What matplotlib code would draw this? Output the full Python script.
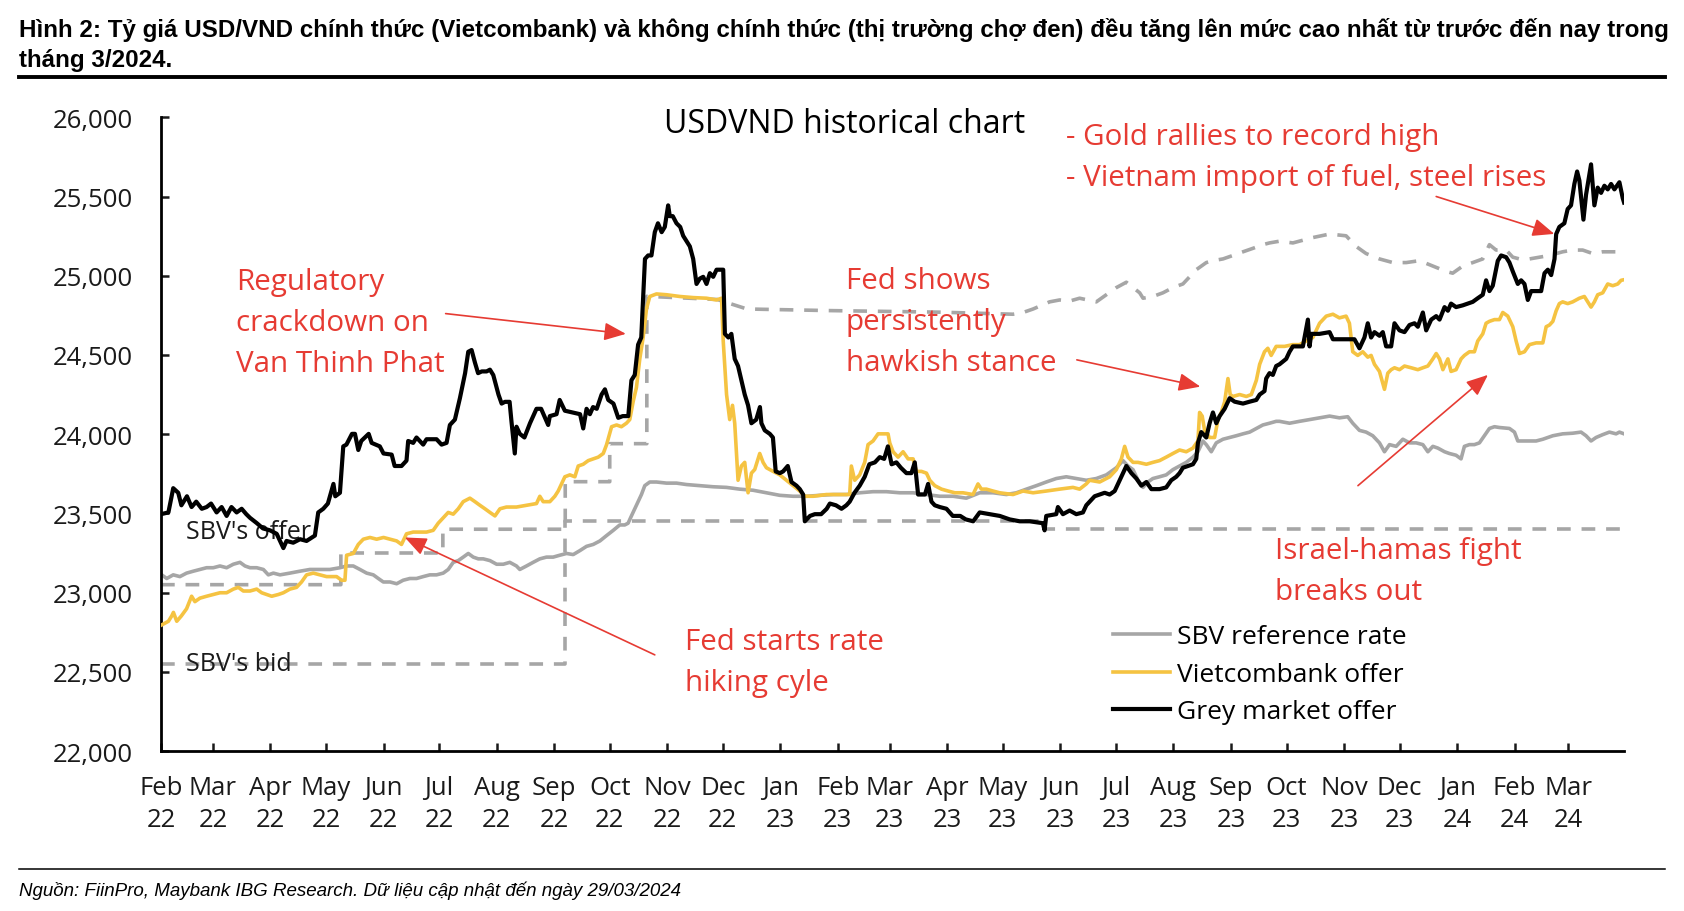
import numpy as np
import pandas as pd
import matplotlib
matplotlib.use("Agg")
import matplotlib.pyplot as plt
from matplotlib.lines import Line2D
from matplotlib.ticker import FuncFormatter

plt.rcParams['font.family'] = ['Open Sans', 'DejaVu Sans']

start = pd.Timestamp("2022-02-01")

# x = days after 01/02/2022, y = VND per USD
grey_days = [0.4, 3.1, 6.6, 10.2, 13.8, 17.4, 21, 24.6, 28.2, 31.8, 35.4, 39, 42.6, 45.3, 48, 51.6,
             55.2, 57.9, 60.6, 64.2, 69.5, 74.9, 80.3, 85.7, 91.1, 96.5, 100.1, 103.7, 107.3, 110.9,
             114.5, 117.2, 119.9, 123.5, 127.1, 130.6, 134.2, 137.8, 141.4, 145, 148.6, 152.2, 154.9,
             157.6, 160.3, 163, 165.7, 168.4, 171.1, 173.8, 177.4, 181, 184.6, 188.1, 191.7, 193.5,
             197.1, 200.7, 204.3, 207.9, 211.5, 215.1, 218.7, 222.3, 225.9, 229.5, 233.1, 236.7,
             240.3, 243.9, 247.4, 250.1, 251.9, 253.7, 256.4, 259.1, 260.9, 263.6, 267.2, 272.6,
             278, 283.4, 290.6, 297.8, 305, 312.1, 319.3, 326.5, 333.7, 340.9, 348.1, 355.3, 362.5,
             369.6, 376.8, 384, 391.2, 398.4, 405.6, 412.8, 420, 427.2, 434.3, 441.5, 448.7, 455.9,
             461.3, 466.7, 472.1, 477.4, 482.8, 488.2, 493.6, 499, 504.4, 509.8, 515.2, 518.8, 521.5,
             524.2, 526.9, 529.6, 532.2, 534.9, 538.5, 542.1, 545.7, 549.3, 552.9, 556.5, 559.2,
             561.9, 563.7, 566.4, 569.1, 572.7, 576.3, 579.9, 583.5, 587.1, 590.7, 594.2, 597.8,
             601.4, 603.2, 608.6, 614, 619.4, 624.8, 630.2, 635.5, 640, 642.7, 646.3, 649.9, 653.5,
             657.1, 659.8, 662.5, 666.1, 669.7, 673.3, 676.9, 680.5, 683.2, 685.9, 688.6, 692.2,
             694.8, 698.4, 701.1, 702.9, 705.6, 708.3, 711, 713.7, 716.4, 719.1, 721.8, 727.2, 729.9,
             731.7, 736.2, 741.6, 745.2, 750.6, 755.9, 761.3, 765.8, 768.5, 771.2, 773.9, 777.5,
             781.1, 784.7, 786.5, 789]
grey_vals = [23112, 23089, 23112, 23101, 23123, 23135, 23146, 23157, 23157, 23168, 23157, 23179, 23191,
             23168, 23157, 23157, 23146, 23112, 23123, 23112, 23123, 23135, 23146, 23146, 23146, 23157,
             23168, 23168, 23146, 23123, 23112, 23089, 23067, 23067, 23056, 23078, 23089, 23089, 23101,
             23112, 23112, 23123, 23146, 23191, 23202, 23224, 23247, 23224, 23213, 23213, 23202, 23179,
             23179, 23191, 23168, 23146, 23168, 23191, 23213, 23224, 23224, 23236, 23247, 23240, 23265,
             23292, 23304, 23326, 23360, 23393, 23427, 23427, 23438, 23484, 23551, 23619, 23675, 23698,
             23698, 23691, 23691, 23682, 23675, 23668, 23664, 23653, 23646, 23630, 23614, 23608, 23608,
             23614, 23619, 23619, 23630, 23637, 23637, 23630, 23630, 23619, 23608, 23608, 23596, 23630,
             23630, 23619, 23630, 23653, 23675, 23698, 23720, 23731, 23720, 23709, 23720, 23743, 23788,
             23833, 23799, 23776, 23709, 23664, 23698, 23720, 23731, 23743, 23776, 23799, 23822, 23855,
             23889, 23957, 23934, 23889, 23945, 23968, 23979, 23990, 24002, 24013, 24036, 24058, 24069,
             24081, 24081, 24069, 24081, 24092, 24103, 24114, 24103, 24110, 24069, 24024, 24013, 23990,
             23945, 23889, 23934, 23923, 23968, 23945, 23945, 23934, 23889, 23923, 23912, 23889, 23878,
             23867, 23844, 23923, 23934, 23934, 23945, 23990, 24036, 24047, 24042, 24036, 24013, 23957,
             23957, 23957, 23968, 23990, 24002, 24006, 24013, 23990, 23957, 23979, 23997, 24013, 24002,
             24013, 24002]

vcb_days = [0.4, 4, 5.8, 6.7, 8.5, 11, 13.8, 16.5, 18.3, 21, 24.6, 28.2, 31.8, 35.4, 39, 41.7, 44.4, 48,
            51.6, 54.3, 57, 59.7, 63.3, 66, 69.5, 73.1, 75.8, 78.5, 82.1, 85.7, 89.3, 94.7, 97.4, 99.2,
            100.1, 103.7, 106.4, 109.1, 112.7, 116.3, 120, 123.5, 127.1, 129.7, 132.4, 136, 139.6,
            143.2, 146.8, 149.5, 152.2, 154.9, 157.6, 160.3, 163, 164.8, 166.6, 169.3, 172, 174.7,
            177.4, 180.1, 182.8, 186.3, 191.7, 197.1, 202.5, 204.3, 206.1, 209.7, 212.4, 214.2, 217.8,
            220.5, 223.2, 225, 227.7, 230.4, 233.1, 235.8, 238.5, 240.3, 243, 245.7, 248.3, 251, 252.8,
            254.6, 256.4, 258.2, 260, 261.8, 263.6, 267.2, 272.6, 279.8, 287, 294.2, 299.6, 302.3,
            303.2, 305, 306.7, 308.2, 309.4, 311.2, 313, 314.8, 316.6, 318.4, 320.2, 322.9, 324.7,
            326.5, 330.1, 333.7, 337.3, 340.9, 344.5, 347.2, 351.7, 358.9, 366, 371.4, 372.3, 374.1,
            376.8, 379.5, 381.3, 384, 386.7, 389.4, 392.1, 393, 394.8, 397.5, 400.2, 402.9, 405.6,
            407.4, 410.1, 412.8, 414.6, 417.3, 420.9, 424.5, 428.1, 432.5, 437.9, 440.6, 442.4, 445.1,
            448.7, 452.3, 459.5, 464.9, 470.3, 477.4, 484.6, 491.8, 495.4, 499, 500.8, 506.2, 511.6,
            515.2, 517.9, 519.7, 521.5, 524.2, 526.9, 531.4, 534.9, 538.5, 542.1, 545.7, 549.3, 552.9,
            556.5, 559.2, 560.1, 561.5, 562.8, 565.5, 568.2, 570, 571.8, 573.6, 575.4, 576.6, 578.1,
            581.7, 585.3, 588, 590.7, 592.5, 595.1, 596.9, 598.7, 601.4, 605.9, 610.4, 614, 617.6,
            621.2, 624.8, 628.4, 632, 635.5, 639.1, 640.9, 642.7, 645.4, 648.1, 650.8, 652.6, 654.4,
            657.1, 659.8, 661.6, 663.4, 665.2, 667.9, 670.6, 674.2, 677.8, 680.5, 683.2, 685.9, 687.7,
            689.5, 691.3, 694, 695.7, 698.4, 701.1, 702.9, 705.6, 708.3, 710.1, 712.8, 714.6, 716.4,
            719.1, 721.8, 723.6, 726.3, 729, 730.8, 732.6, 735.3, 738, 741.6, 745.2, 747, 748.8,
            750.6, 752.4, 754.1, 755.9, 758.6, 761.3, 764.9, 767.6, 771.2, 773, 774.8, 777.5, 780.2,
            782.9, 785.6, 787.4, 789]
vcb_vals = [22796, 22819, 22853, 22875, 22819, 22853, 22898, 22977, 22943, 22965, 22977, 22988, 22999,
            22999, 23022, 23033, 23010, 23010, 23022, 22999, 22988, 22977, 22988, 22999, 23022, 23033,
            23067, 23112, 23123, 23112, 23101, 23101, 23078, 23078, 23236, 23247, 23304, 23337, 23348,
            23337, 23348, 23337, 23326, 23304, 23371, 23382, 23382, 23382, 23393, 23438, 23472, 23506,
            23495, 23529, 23574, 23585, 23596, 23574, 23551, 23529, 23506, 23484, 23529, 23540, 23540,
            23551, 23562, 23608, 23574, 23574, 23608, 23641, 23731, 23743, 23731, 23799, 23810, 23833,
            23844, 23855, 23878, 23934, 24047, 24058, 24047, 24069, 24092, 24204, 24295, 24475, 24610,
            24790, 24869, 24885, 24880, 24869, 24862, 24858, 24847, 24858, 24588, 24250, 24092, 24182,
            24069, 23709, 23799, 23822, 23630, 23754, 23777, 23878, 23822, 23788, 23765, 23743, 23709,
            23675, 23641, 23608, 23608, 23619, 23619, 23619, 23799, 23709, 23743, 23822, 23934, 23957,
            24002, 24002, 24002, 23945, 23889, 23855, 23889, 23844, 23844, 23765, 23765, 23754, 23709,
            23675, 23653, 23641, 23630, 23630, 23619, 23686, 23653, 23653, 23641, 23630, 23619, 23641,
            23630, 23641, 23653, 23664, 23653, 23686, 23709, 23698, 23731, 23776, 23844, 23923, 23855,
            23822, 23822, 23810, 23822, 23833, 23855, 23878, 23900, 23889, 23912, 23957, 24137, 24114,
            24024, 23979, 23979, 24092, 24137, 24204, 24351, 24250, 24238, 24250, 24238, 24250, 24340,
            24441, 24520, 24542, 24497, 24554, 24554, 24565, 24565, 24588, 24610, 24700, 24745, 24757,
            24734, 24745, 24700, 24520, 24497, 24520, 24486, 24497, 24441, 24396, 24283, 24385, 24407,
            24419, 24407, 24430, 24419, 24407, 24419, 24430, 24475, 24509, 24475, 24407, 24475, 24396,
            24407, 24475, 24497, 24520, 24520, 24588, 24633, 24700, 24712, 24723, 24723, 24768, 24745,
            24678, 24588, 24509, 24520, 24565, 24576, 24576, 24678, 24689, 24712, 24779, 24824, 24835,
            24824, 24835, 24858, 24869, 24802, 24835, 24880, 24892, 24948, 24937, 24948, 24971, 24975]

black_days = [0, 4, 6.6, 9.3, 11, 14, 16.5, 19, 22, 24.6, 27, 30, 32.7, 35.4, 38, 40.8, 43.5, 46, 48,
              51.6, 55, 58.8, 62.4, 66, 67.7, 71.3, 75, 78.5, 83, 84.8, 87.5, 90, 93, 94, 96.5, 98.3,
              100, 103, 104.6, 106.4, 108, 112, 113.6, 118, 120, 124.4, 126, 129.7, 132.4, 133.3, 136,
              137.8, 141.4, 143.2, 148.6, 151.3, 154, 155.8, 158.5, 161.2, 164, 165.7, 167.5, 169.3,
              171, 173, 175.6, 177.4, 179.2, 182, 183.7, 185.5, 188, 189, 190.8, 191.7, 193.5, 196,
              199, 202.5, 205, 208.8, 209.7, 213.3, 215, 217.8, 222, 226, 227.7, 229.5, 231.3, 233,
              235, 237.6, 239.4, 241.2, 244, 246.6, 249, 252, 253.7, 255.5, 257.3, 259, 261, 262.7,
              264.5, 266.3, 268, 270, 271.7, 273.5, 274.4, 276, 278, 280, 281.6, 283.4, 285.2, 287,
              288.8, 290.6, 292.4, 294.2, 296, 297.8, 299.6, 303.2, 304.1, 306, 307.6, 309.4, 311.2,
              313, 314.8, 316.6, 318.4, 321, 323, 323.8, 325.6, 328.3, 330, 331.5, 333.7, 335.5, 338,
              340, 342.7, 344.5, 346.3, 347.2, 350, 352.6, 356, 359, 360.7, 364, 367, 369.6, 371.4,
              374, 376.8, 379.5, 382, 385, 387.6, 390, 392, 394, 396.6, 399, 402, 404.7, 406.5, 408.3,
              412, 413.7, 415.5, 417.3, 420, 423.6, 427, 431, 434, 438, 441.5, 446.9, 452.3, 457.7,
              463.1, 468.5, 475.6, 476.5, 477.4, 482.8, 483.7, 486.4, 490, 493.6, 497.2, 499, 500.8,
              503.5, 506.2, 508.9, 511.6, 514.3, 516.1, 517.9, 520.6, 523.3, 526, 528.7, 531.4, 534.1,
              538.5, 542.1, 544.8, 547.5, 549.3, 551.1, 553.8, 556.5, 558.3, 559.2, 561, 563.7, 565.5,
              567.3, 569.1, 570.9, 573.6, 576.3, 579, 583.5, 587.1, 590.7, 592.5, 595.1, 596, 597.8,
              599.6, 601.4, 603.2, 606.8, 608.6, 610.4, 615.8, 618.5, 619.4, 620.3, 624.8, 630.2, 632,
              639.1, 643.6, 646.3, 649, 650.8, 652.6, 654.4, 657.1, 658.9, 660.7, 663.4, 665.2, 667.9,
              670.6, 673.3, 676, 677.8, 680.5, 682.3, 685, 687.7, 689.5, 692.2, 694, 695.7, 698.4, 702,
              704.7, 707.4, 710.1, 712.8, 714.6, 716.4, 718.2, 720.9, 722.7, 725.4, 727.2, 729, 731.7,
              733.5, 735.3, 737.1, 738.9, 741.6, 744.3, 746.1, 747.9, 749.7, 751.5, 752.4, 754.1,
              756.8, 758.6, 760.4, 762.2, 763.7, 764.9, 767.1, 768.5, 771.2, 773, 774.8, 776.6, 778.4,
              780.2, 782, 783.8, 786.5, 788.3, 789]
black_vals = [23495, 23506, 23659, 23630, 23551, 23608, 23540, 23574, 23529, 23540, 23562, 23506, 23540,
              23484, 23540, 23506, 23529, 23495, 23472, 23439, 23405, 23393, 23371, 23281, 23326, 23315,
              23337, 23326, 23360, 23506, 23529, 23562, 23686, 23608, 23630, 23923, 23934, 24002, 24002,
              23900, 23957, 24002, 23945, 23923, 23878, 23871, 23799, 23799, 23833, 23957, 23945, 23979,
              23934, 23968, 23968, 23934, 23945, 24058, 24092, 24227, 24385, 24520, 24531, 24452, 24385,
              24396, 24396, 24407, 24373, 24250, 24193, 24204, 24204, 24081, 23878, 24047, 24002, 23979,
              24069, 24160, 24160, 24058, 24114, 24126, 24216, 24148, 24137, 24126, 24036, 24160, 24126,
              24171, 24160, 24250, 24283, 24216, 24193, 24103, 24114, 24114, 24340, 24374, 24565, 24610,
              25106, 25128, 25128, 25275, 25331, 25275, 25308, 25444, 25376, 25376, 25331, 25308, 25252,
              25218, 25185, 25106, 24948, 24982, 24993, 24948, 25016, 24993, 25038, 25038, 24633, 24610,
              24633, 24475, 24430, 24340, 24250, 24182, 24069, 24092, 24171, 24069, 24024, 24002, 23979,
              23765, 23754, 23765, 23799, 23698, 23675, 23653, 23619, 23450, 23484, 23495, 23495, 23529,
              23562, 23551, 23529, 23551, 23574, 23630, 23675, 23731, 23810, 23822, 23855, 23844, 23923,
              23810, 23822, 23788, 23754, 23754, 23822, 23619, 23619, 23686, 23574, 23551, 23540, 23529,
              23484, 23484, 23462, 23450, 23506, 23495, 23484, 23462, 23450, 23450, 23438, 23393, 23484,
              23495, 23540, 23495, 23518, 23495, 23506, 23551, 23574, 23608, 23619, 23630, 23619, 23641,
              23686, 23731, 23799, 23754, 23720, 23675, 23698, 23653, 23653, 23664, 23709, 23731, 23754,
              23788, 23799, 23810, 23844, 23945, 24013, 23979, 24069, 24137, 24069, 24114, 24160, 24227,
              24205, 24193, 24205, 24216, 24250, 24272, 24351, 24385, 24374, 24430, 24441, 24475, 24520,
              24554, 24554, 24723, 24554, 24633, 24633, 24644, 24599, 24599, 24599, 24542, 24610, 24700,
              24610, 24644, 24621, 24644, 24554, 24554, 24700, 24655, 24644, 24689, 24700, 24678, 24768,
              24655, 24723, 24745, 24723, 24802, 24779, 24824, 24802, 24813, 24824, 24835, 24858, 24880,
              24971, 24903, 24937, 25094, 25128, 25117, 25083, 25027, 24948, 24971, 24948, 24847, 24903,
              24903, 24903, 25016, 25038, 25004, 25106, 25263, 25308, 25331, 25421, 25444, 25579, 25658,
              25601, 25354, 25511, 25703, 25444, 25556, 25523, 25568, 25545, 25579, 25545, 25590, 25489,
              25462]

# SBV trading band (dashed)
offer_days = [0, 97, 97, 152, 152, 218, 218, 242, 242, 262, 262, 300, 316, 360, 420, 459.5, 464.9,
              470.3, 479.2, 484.6, 490, 495.4, 504.4, 509.8, 515.2, 520.6, 527.8, 529.6, 534.9, 540.3,
              545.7, 551.1, 554.7, 558.3, 563.7, 567.3, 572.7, 578.1, 583.5, 588.9, 594.2, 597.8, 603.2,
              610.4, 621.2, 630.2, 639.1, 644.5, 649.9, 657.1, 664.3, 671.5, 678.7, 685.9, 693.1, 696.6,
              702, 707.4, 712.8, 716.4, 720, 725.4, 729, 732.6, 738, 743.4, 748.8, 755.9, 761.3, 766.7,
              772.1, 777.5, 782.9, 789]
offer_vals = [23050, 23050, 23250, 23250, 23400, 23400, 23700, 23700, 23940, 23940, 24870, 24850, 24790,
              24780, 24770, 24757, 24768, 24790, 24835, 24847, 24840, 24858, 24835, 24880, 24925, 24959,
              24892, 24858, 24869, 24892, 24925, 24948, 24993, 25038, 25083, 25095, 25106, 25128, 25151,
              25173, 25196, 25207, 25218, 25207, 25241, 25263, 25252, 25185, 25140, 25106, 25083, 25083,
              25095, 25061, 25027, 25016, 25061, 25083, 25106, 25196, 25162, 25162, 25117, 25106, 25106,
              25117, 25128, 25151, 25162, 25162, 25140, 25151, 25151, 25151]
bid_days = [0, 218, 218, 476.5, 476.5, 789]
bid_vals = [22550, 22550, 23450, 23450, 23400, 23400]

month_starts = pd.date_range("2022-02-01", "2024-03-01", freq="MS")
month_pos = (month_starts - start).days
month_labels = [d.strftime("%b") + "\n" + d.strftime("%y") for d in month_starts]

red = "#E63B33"
grey = "#A6A6A6"
yellow = "#F5C342"

fig = plt.figure(figsize=(16.84, 9.12), dpi=100)
ax = fig.add_axes([0.0956, 0.1754, 0.8688, 0.6949])

ax.plot(offer_days, offer_vals, color=grey, lw=2.6, dashes=(3.8, 3), zorder=1)
ax.plot(bid_days, bid_vals, color=grey, lw=2.6, dashes=(3.8, 3), zorder=1)
ax.plot(grey_days, grey_vals, color=grey, lw=2.6, label="SBV reference rate", zorder=2)
ax.plot(vcb_days, vcb_vals, color=yellow, lw=2.6, label="Vietcombank offer", zorder=3)
ax.plot(black_days, black_vals, color="black", lw=3, label="Grey market offer", zorder=4)

ax.set_xlim(0, 789)
ax.set_ylim(22000, 26000)
ax.set_yticks(np.arange(22000, 26001, 500))
ax.yaxis.set_major_formatter(FuncFormatter(lambda v, p: f"{v:,.0f}"))
ax.set_xticks(month_pos)
ax.set_xticklabels(month_labels, linespacing=1.35)

for s in ["top", "right"]:
    ax.spines[s].set_visible(False)
for s in ["left", "bottom"]:
    ax.spines[s].set_linewidth(2)
ax.tick_params(axis="both", direction="in", length=6, width=1.8, labelsize=18.5, colors="#1a1a1a")
ax.tick_params(axis="y", pad=20)
ax.tick_params(axis="x", pad=17.5)

ax.legend(loc="center left", bbox_to_anchor=(0.651, 0.121), frameon=False, fontsize=19,
          handlelength=2.15, handletextpad=0.25, labelspacing=0.47, borderpad=0, borderaxespad=0)

ax.text(368.8, 25960, "USDVND historical chart", ha="center", va="center", fontsize=23)
ax.text(13.4, 23386, "SBV's offer", ha="left", va="center", fontsize=18, color="#1a1a1a")
ax.text(13.4, 22552, "SBV's bid", ha="left", va="center", fontsize=18, color="#1a1a1a")

notes = [
    ("Regulatory\ncrackdown on\nVan Thinh Phat", 40.4, 24705, (153.5, 24761), (250.7, 24633)),
    ("Fed shows\npersistently\nhawkish stance", 369.4, 24712, (493.9, 24469), (560.5, 24300)),
    ("- Gold rallies to record high\n- Vietnam import of fuel, steel rises", 488.2, 25750,
     (687.7, 25500), (751.4, 25264)),
    ("Israel-hamas fight\nbreaks out", 601, 23135, (645.5, 23675), (715.6, 24374)),
    ("Fed starts rate\nhiking cyle", 282.5, 22562, (266.3, 22607), (131.5, 23348)),
]
for txt, x, y, a0, a1 in notes:
    ax.text(x, y, txt, ha="left", va="center", fontsize=21.3, color=red, linespacing=1.56)
    ax.annotate("", xy=a1, xytext=a0,
                arrowprops=dict(arrowstyle="-|>,head_length=0.6,head_width=0.25", color=red,
                                lw=1.2, mutation_scale=22, shrinkA=0, shrinkB=0))

title = ("Hình 2: Tỷ giá USD/VND chính thức (Vietcombank) và không chính thức (thị trường chợ đen) "
         "đều tăng lên mức cao nhất từ trước đến nay trong\ntháng 3/2024.")
tt = fig.text(0.0113, 0.9507, title, ha="left", va="center", fontsize=14.5, fontweight="bold",
              family=["Liberation Sans", "DejaVu Sans"], linespacing=1.4)
# fit the first title line to the width of the rule below it
fig.canvas.draw()
w = tt.get_window_extent().width
tt.set_fontsize(14.5 * 1646 / w)

fig.add_artist(Line2D([0.0113, 0.9887], [0.914, 0.914], color="black", lw=2.8))
fig.add_artist(Line2D([0.0113, 0.9887], [0.046, 0.046], color="black", lw=1.1))
fig.text(0.0113, 0.023, "Nguồn: FiinPro, Maybank IBG Research. Dữ liệu cập nhật đến ngày 29/03/2024",
         ha="left", va="center", fontsize=13.5, style="italic",
         family=["Liberation Sans", "DejaVu Sans"])

fig.savefig("out.png", dpi=100)
